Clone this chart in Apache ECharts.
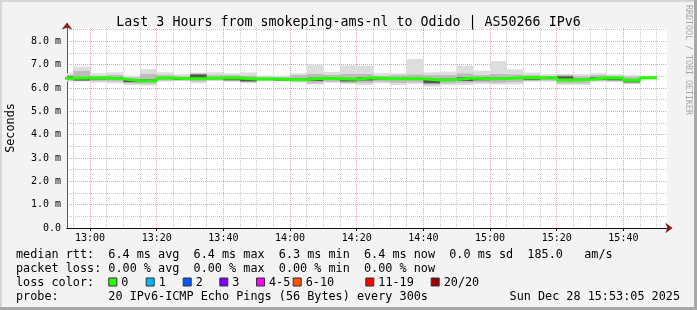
<!DOCTYPE html>
<html><head><meta charset="utf-8">
<script src="https://cdn.jsdelivr.net/npm/echarts@6/dist/echarts.min.js"></script>
<style>html,body{margin:0;padding:0;background:#f3f3f3;} #c{width:697px;height:310px;}</style>
</head><body><div id="c"></div>
<script>
// ---- data ----
const windowStart = '12:53:05';
const windowEnd = '15:53:05';
const stepEnds = ['12:55','13:00','13:05','13:10','13:15','13:20','13:25','13:30','13:35','13:40','13:45','13:50',
  '13:55','14:00','14:05','14:10','14:15','14:20','14:25','14:30','14:35','14:40','14:45','14:50',
  '14:55','15:00','15:05','15:10','15:15','15:20','15:25','15:30','15:35','15:40','15:45','15:50'];
const rttMax = [6.63,6.91,6.63,6.67,6.53,6.81,6.67,6.59,6.66,6.67,6.63,6.67,6.53,6.53,6.63,7.00,6.69,6.97,6.95,6.63,6.63,7.24,6.67,6.70,6.96,6.74,7.15,6.80,6.66,6.59,6.60,6.59,6.63,6.59,6.56,6.53];
const rttMin = [6.27,6.27,6.23,6.20,6.13,6.10,6.27,6.30,6.20,6.30,6.27,6.20,6.30,6.27,6.23,6.15,6.22,6.17,6.13,6.20,6.13,6.17,6.06,6.13,6.13,6.17,6.15,6.15,6.27,6.27,6.13,6.13,6.27,6.25,6.16,6.37];
const rttMedian = [6.42,6.43,6.44,6.39,6.31,6.31,6.43,6.40,6.41,6.43,6.43,6.38,6.39,6.36,6.36,6.42,6.40,6.37,6.44,6.40,6.40,6.40,6.34,6.36,6.43,6.39,6.41,6.45,6.44,6.44,6.34,6.36,6.44,6.43,6.33,6.44];
const innerHi = [6.55,6.73,6.52,6.55,6.45,6.60,6.55,6.50,6.62,6.55,6.55,6.52,6.48,6.47,6.55,6.60,6.56,6.60,6.60,6.52,6.55,6.58,6.55,6.55,6.62,6.55,6.60,6.58,6.55,6.52,6.56,6.50,6.55,6.52,6.48,6.50];
const innerLo = [6.32,6.30,6.30,6.28,6.20,6.18,6.32,6.33,6.28,6.33,6.30,6.25,6.32,6.30,6.27,6.20,6.27,6.22,6.22,6.27,6.22,6.25,6.15,6.20,6.22,6.25,6.22,6.25,6.30,6.32,6.20,6.20,6.30,6.30,6.20,6.39];
const coreHi = [6.50,6.45,6.44,6.47,6.35,6.38,6.45,6.42,6.58,6.45,6.44,6.40,6.42,6.40,6.40,6.44,6.43,6.40,6.46,6.43,6.43,6.43,6.36,6.40,6.46,6.45,6.44,6.47,6.46,6.46,6.50,6.40,6.46,6.46,6.36,6.47];
const coreLo = [6.38,6.32,6.36,6.37,6.25,6.26,6.38,6.34,6.36,6.38,6.33,6.28,6.36,6.32,6.32,6.30,6.35,6.28,6.32,6.36,6.35,6.35,6.20,6.30,6.30,6.33,6.34,6.38,6.35,6.38,6.30,6.30,6.35,6.33,6.24,6.40];
const xTickLabels = ['13:00','13:20','13:40','14:00','14:20','14:40','15:00','15:20','15:40'];
const yTickValues = [0,1,2,3,4,5,6,7,8];
const yTickLabels = ['0.0','1.0 m','2.0 m','3.0 m','4.0 m','5.0 m','6.0 m','7.0 m','8.0 m'];
const yMinorValues = [0.5,1.5,2.5,3.5,4.5,5.5,6.5,7.5,8.5];
const yMax = 8.57;
const titleText = 'Last 3 Hours from smokeping-ams-nl to Odido | AS50266 IPv6';
const medianStats = ['6.4 ms avg','6.4 ms max','6.3 ms min','6.4 ms now','0.0 ms sd','185.0   am/s'];
const lossStats = ['0.00 % avg','0.00 % max','0.00 % min','0.00 % now'];
const lossLabels = ['0','1','2','3','4-5','6-10','11-19','20/20'];
const lossColors = ['#26ff00','#00b8ff','#0059ff','#7e00ff','#ff00ff','#ff5500','#ff0000','#a10000'];
const probeText = '20 IPv6-ICMP Echo Pings (56 Bytes) every 300s';
const dateText = 'Sun Dec 28 15:53:05 2025';

// ---- helpers ----
function toMin(s){ const p = s.split(':').map(Number); return p[0]*60 + p[1] + (p[2]||0)/60; }
function fmtMin(v){ const h = Math.floor(v/60), m = Math.round(v - h*60); return String(h).padStart(2,'0')+':'+String(m).padStart(2,'0'); }
const xMin = toMin(windowStart), xMax = toMin(windowEnd);
const majorX = xTickLabels.map(toMin);
const minorX = stepEnds.map(toMin).filter(v => majorX.indexOf(v) < 0);
const MONO = '"DejaVu Sans Mono", monospace';

function band(lo, hi, color, z){
  return {
    type:'custom', xAxisIndex:2, yAxisIndex:2, z:z, silent:true, animation:false,
    encode:{x:[0,1], y:[2,3]},
    data: stepEnds.map((t,i)=>[toMin(t)-5, toMin(t), lo[i], hi[i]]),
    renderItem:(params, api)=>{
      const a = api.coord([api.value(0), api.value(3)]);
      const b = api.coord([api.value(1), api.value(2)]);
      const cs = params.coordSys;
      const r = echarts.graphic.clipRectByRect(
        {x:a[0], y:a[1], width:b[0]-a[0], height:b[1]-a[1]},
        {x:cs.x, y:cs.y, width:cs.width, height:cs.height});
      return r ? {type:'rect', shape:r, style:{fill:color}} : null;
    }
  };
}

const medianData = stepEnds.map((t,i)=>[toMin(t)-5, rttMedian[i]]);
medianData.push([toMin(stepEnds[stepEnds.length-1]), rttMedian[rttMedian.length-1]]);

const minorLine = {show:true, lineStyle:{color:'#c8c8c8', width:1, type:[1,1]}};
const majorLine = {show:true, lineStyle:{color:'#efa0a0', width:1, type:[1,1]}};

const chart = echarts.init(document.getElementById('c'), null, {renderer:'canvas'});

const legendY = [254.5, 268.5, 282.5, 296.5];
const legendX0 = 16;
const boxX = [108.3, 145.7, 182.7, 219.3, 256, 292.7, 365.3, 430.7];

const graphics = [
  {type:'rect', shape:{x:0,y:0,width:697,height:2}, style:{fill:'#d6d6d6'}, z:-10},
  {type:'rect', shape:{x:0,y:0,width:2,height:310}, style:{fill:'#d6d6d6'}, z:-10},
  {type:'rect', shape:{x:0,y:307,width:697,height:3}, style:{fill:'#a8a8a8'}, z:-10},
  {type:'rect', shape:{x:694,y:0,width:3,height:310}, style:{fill:'#a8a8a8'}, z:-10},
  {type:'text', x:688, y:5, rotation:-Math.PI/2, style:{text:'RRDTOOL / TOBI OETIKER', font:'8.3px '+MONO, fill:'#a6a6a6', textAlign:'left', textVerticalAlign:'middle'}},
  {type:'text', x:legendX0, y:legendY[0], style:{text:'median rtt:  ' + medianStats.join('  '), font:'11.8px '+MONO, fill:'#000', textVerticalAlign:'middle'}},
  {type:'text', x:legendX0, y:legendY[1], style:{text:'packet loss: ' + lossStats.join('  '), font:'11.8px '+MONO, fill:'#000', textVerticalAlign:'middle'}},
  {type:'text', x:legendX0, y:legendY[2], style:{text:'loss color:', font:'11.8px '+MONO, fill:'#000', textVerticalAlign:'middle'}},
  {type:'text', x:legendX0, y:legendY[3], style:{text:'probe:       ' + probeText, font:'11.8px '+MONO, fill:'#000', textVerticalAlign:'middle'}},
  {type:'text', x:680, y:legendY[3], style:{text:dateText, font:'11.8px '+MONO, fill:'#000', textAlign:'right', textVerticalAlign:'middle'}}
];
lossLabels.forEach((lab,i)=>{
  graphics.push({type:'rect', shape:{x:boxX[i]+0.5, y:legendY[2]-4.5, width:8, height:8}, style:{fill:lossColors[i], stroke:'#333', lineWidth:1}});
  graphics.push({type:'text', x:boxX[i]+13, y:legendY[2], style:{text:lab, font:'11.8px '+MONO, fill:'#000', textVerticalAlign:'middle'}});
});

chart.setOption({
  backgroundColor:'#f3f3f3',
  animation:false,
  title:{text:titleText, left:'center', top:11, textStyle:{fontFamily:MONO, fontSize:13.3, fontWeight:'normal', color:'#000'}},
  grid:{left:67, right:30, top:28, bottom:82, show:true, backgroundColor:'#ffffff', borderWidth:0, outerBoundsMode:'none'},
  xAxis:[
    {type:'value', min:xMin, max:xMax, position:'bottom', axisLine:{show:false}, axisLabel:{show:false},
     axisTick:{show:false, customValues:minorX}, splitLine:minorLine},
    {type:'value', min:xMin, max:xMax, position:'bottom', axisLabel:{show:false}, axisTick:{show:false}, splitLine:{show:false},
     axisLine:{show:true, onZero:false, symbol:['none','arrow'], symbolSize:[8,7], symbolOffset:[0,5.5], lineStyle:{color:'#8b1a1a', width:1}}},
    {type:'value', min:xMin, max:xMax, position:'bottom',
     axisLine:{show:true, onZero:false, lineStyle:{color:'#111', width:1}},
     axisTick:{show:true, customValues:majorX, length:3, inside:false, lineStyle:{color:'#111'}},
     axisLabel:{show:true, customValues:majorX, formatter:v=>fmtMin(v), fontFamily:MONO, fontSize:10, color:'#000', margin:5},
     splitLine:majorLine}
  ],
  yAxis:[
    {type:'value', min:0, max:yMax, position:'left', axisLine:{show:false}, axisLabel:{show:false},
     axisTick:{show:false, customValues:yMinorValues}, splitLine:minorLine},
    {type:'value', min:0, max:yMax, position:'left', axisLabel:{show:false}, axisTick:{show:false}, splitLine:{show:false},
     axisLine:{show:true, onZero:false, symbol:['none','arrow'], symbolSize:[8,7], symbolOffset:[0,5.5], lineStyle:{color:'#8b1a1a', width:1}}},
    {type:'value', min:0, max:yMax, position:'left',
     name:'Seconds', nameLocation:'middle', nameRotate:90, nameGap:50,
     nameTextStyle:{fontFamily:MONO, fontSize:11.8, color:'#000'},
     axisLine:{show:true, onZero:false, lineStyle:{color:'#555', width:1}},
     axisTick:{show:false, customValues:yTickValues},
     axisLabel:{show:true, customValues:yTickValues, formatter:v=>yTickLabels[yTickValues.indexOf(Math.round(v))], fontFamily:MONO, fontSize:10, color:'#000', margin:6},
     splitLine:majorLine}
  ],
  series:[
    band(rttMin, rttMax, '#dddddd', 3),
    band(innerLo, innerHi, '#bcbcbc', 4),
    band(coreLo, coreHi, '#555555', 5),
    {type:'line', xAxisIndex:2, yAxisIndex:2, step:'end', data:medianData, symbol:'none', z:6,
     lineStyle:{color:lossColors[0], width:3}, silent:true}
  ],
  graphic:graphics
});
</script></body></html>
